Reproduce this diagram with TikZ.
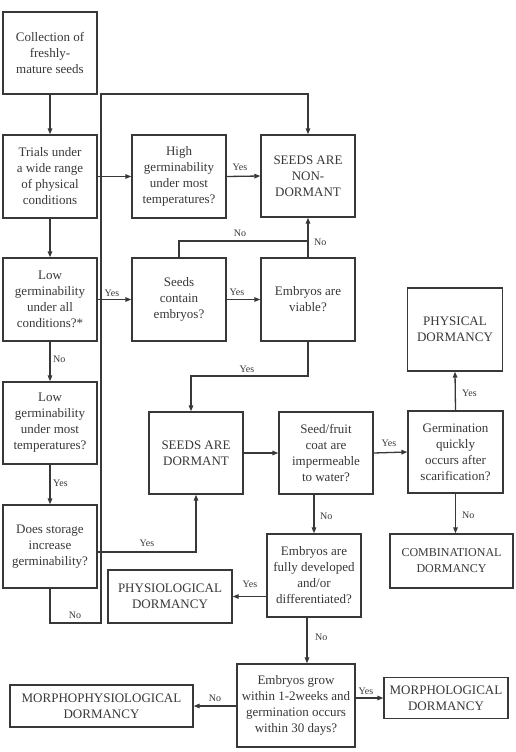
\documentclass[tikz,border=0pt]{standalone}
\usepackage{fontspec}
\setmainfont{Liberation Serif}
\usetikzlibrary{arrows.meta,calc}
\definecolor{ink}{HTML}{383838}
\begin{document}
\begin{tikzpicture}[x=1pt,y=-1pt,
  box/.style={draw=ink, line width=1.3pt, text=ink, align=center, inner sep=1pt,
              font=\fontsize{13}{16}\selectfont},
  arr/.style={draw=ink, line width=1.3pt, -{Triangle[length=6pt,width=4.5pt]}},
  ln/.style={draw=ink, line width=1.3pt},
  lab/.style={text=ink, font=\fontsize{10}{12}\selectfont, inner sep=0pt}]
\useasboundingbox (0,0) rectangle (515,752);
\fill[white] (0,0) rectangle (515,752);

% boxes
\node[box, minimum width=94pt, minimum height=82pt] (collect) at (50,53) {Collection of\\freshly-\\mature seeds};
\node[box, minimum width=94pt, minimum height=83pt] (trials) at (50,176.5) {Trials under\\a wide range\\of physical\\conditions};
\node[box, minimum width=94pt, minimum height=83pt] (high) at (179,176.5) {High\\germinability\\under most\\temperatures?};
\node[box, minimum width=94pt, minimum height=82pt] (nondorm) at (308,176) {SEEDS ARE\\NON-\\DORMANT};
\node[box, minimum width=94pt, minimum height=83pt] (lowall) at (50,299.5) {Low\\germinability\\under all\\conditions?*};
\node[box, minimum width=94pt, minimum height=83pt] (contain) at (179,299.5) {Seeds\\contain\\embryos?};
\node[box, minimum width=94pt, minimum height=83pt] (viable) at (308,299.5) {Embryos are\\viable?};
\node[box, minimum width=94pt, minimum height=82pt] (lowmost) at (50,423) {Low\\germinability\\under most\\temperatures?};
\node[box, minimum width=94pt, minimum height=82pt] (dormant) at (196,453) {SEEDS ARE\\DORMANT};
\node[box, minimum width=94pt, minimum height=82pt] (coat) at (326,453) {Seed/fruit\\coat are\\impermeable\\to water?};
\node[box, minimum width=95pt, minimum height=82pt] (quick) at (455.5,452) {Germination\\quickly\\occurs after\\scarification?};
\node[box, minimum width=95pt, minimum height=83pt] (physical) at (455,329.5) {PHYSICAL\\DORMANCY};
\node[box, minimum width=94pt, minimum height=83pt] (storage) at (50,546.5) {Does storage\\increase\\germinability?};
\node[box, minimum width=124pt, minimum height=53pt] (physio) at (170,596.5) {PHYSIOLOGICAL\\DORMANCY};
\node[box, minimum width=94pt, minimum height=83pt] (fully) at (314,575.5) {Embryos are\\fully developed\\and/or\\differentiated?};
\node[box, minimum width=123pt, minimum height=54pt, font=\fontsize{12}{16}\selectfont] (combin) at (451.5,561) {COMBINATIONAL\\DORMANCY};
\node[box, minimum width=118pt, minimum height=83pt] (grow) at (296,705.5) {Embryos grow\\within 1-2weeks and\\germination occurs\\within 30 days?};
\node[box, minimum width=183pt, minimum height=42pt] (morphophys) at (101.5,706) {MORPHOPHYSIOLOGICAL\\DORMANCY};
\node[box, minimum width=124pt, minimum height=41pt] (morpho) at (446,698) {MORPHOLOGICAL\\DORMANCY};

% junction coordinates
\coordinate (rt) at (101,94);
\coordinate (rb) at (101,623);
\coordinate (j1) at (308,241);
\coordinate (j2) at (191,376);
\coordinate (j3) at (196,552);
\coordinate (c5) at (307,0);

% left column
\draw[arr] (collect.south) -- (trials.north);
\draw[arr] (trials.south) -- (lowall.north);
\draw[arr] (lowall.south) -- (lowmost.north);
\draw[arr] (lowmost.south) -- (storage.north);

% big loop back to non-dormant
\draw[arr] (storage.south) |- (rb) -- (rt) -| (nondorm.north);

% row 1
\draw[arr] (trials.east) -- (high.west);
\draw[arr] (high.east) -- (nondorm.west);

% row 2
\draw[arr] (lowall.east) -- (contain.west);
\draw[arr] (contain.east) -- (viable.west);
\draw[ln] (contain.north) |- (j1);
\draw[arr] (viable.north) -- (nondorm.south);
\draw[arr] (viable.south) |- (j2) -- (j2 |- dormant.north);

% storage to dormant
\draw[arr] (storage.east |- j3) -- (j3) -- (j3 |- dormant.south);

% row dormant
\draw[arr] (dormant.east) -- (coat.west);
\draw[arr] (coat.east) -- (quick.west);
\draw[arr] (quick.north) -- (physical.south);
\draw[arr] (quick.south) -- (quick.south |- combin.north);
\draw[arr] (coat.south -| fully.north) -- (fully.north);
\draw[arr] (fully.west |- physio.east) -- (physio.east);
\draw[arr] (fully.south -| c5) -- (grow.north -| c5);
\draw[arr] (grow.west |- morphophys.east) -- (morphophys.east);
\draw[arr] (grow.east |- morpho.west) -- (morpho.west);

% labels
\node[lab] (l1) at (240,167) {Yes};
\node[lab] (l2) at (112,293) {Yes};
\node[lab] (l3) at (237,292) {Yes};
\node[lab] (l4) at (240,233) {No};
\node[lab, anchor=west] (l5) at (314,242) {No};
\node[lab, anchor=west] (l6) at (53,359) {No};
\node[lab, anchor=west] (l7) at (53,483) {Yes};
\node[lab] (l8) at (247,369) {Yes};
\node[lab] (l9) at (147,543) {Yes};
\node[lab] (l10) at (75,615) {No};
\node[lab] (l11) at (389,443) {Yes};
\node[lab, anchor=west] (l12) at (462,393) {Yes};
\node[lab, anchor=west] (l13) at (462,515) {No};
\node[lab, anchor=west] (l14) at (320,516) {No};
\node[lab] (l15) at (250,584) {Yes};
\node[lab, anchor=west] (l16) at (315,637) {No};
\node[lab] (l17) at (215,698) {No};
\node[lab] (l18) at (366,691) {Yes};
\end{tikzpicture}
\end{document}
